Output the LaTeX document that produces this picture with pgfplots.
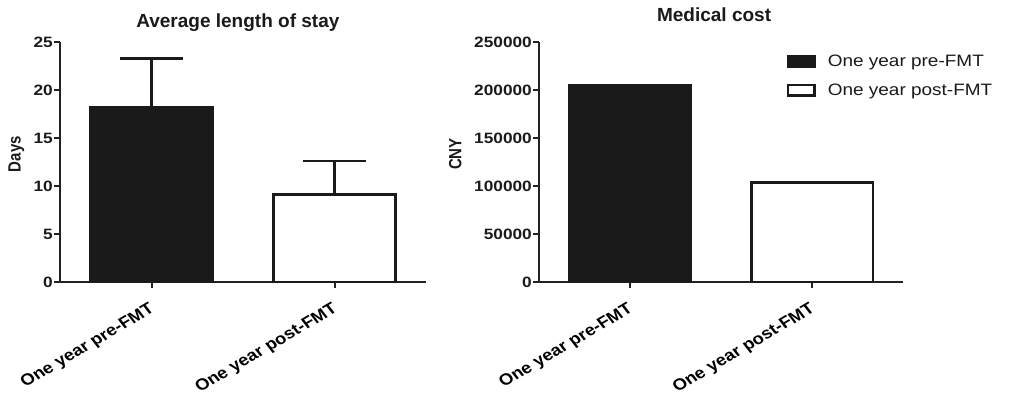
\documentclass[border=0pt]{standalone}
\usepackage{fontspec}
\setmainfont{Liberation Sans}[FakeStretch=1.15]
\newfontfamily\plainsans{Liberation Sans}
\usepackage{graphicx}
\usepackage{pgfplots}
\pgfplotsset{compat=1.18}
\definecolor{barblack}{HTML}{1A1A1A}
\definecolor{axisgray}{HTML}{222222}
\newcommand\xl[1]{\scalebox{1.15}[1]{\rotatebox{34}{\plainsans\bfseries\fontsize{16}{18}\selectfont #1}}}
\newcommand\yl[1]{\scalebox{1}[1.18]{\plainsans\bfseries\fontsize{15}{17}\selectfont #1}}
\pgfplotsset{
  common/.style={
    scale only axis, height=240pt,
    xmin=-0.5, xmax=1.5, ymin=0,
    axis x line*=bottom, axis y line*=left,
    axis line style={-, line width=2.4pt, axisgray},
    tick style={line width=2pt, axisgray},
    major tick length=6pt,
    tick align=outside,
    xtick={0,1},
    xticklabels={\xl{One year pre-FMT}, \xl{One year post-FMT}},
    xticklabel style={anchor=north east, inner sep=0pt, xshift=6pt, yshift=-14pt},
    yticklabel style={font=\bfseries\fontsize{15}{17}\selectfont, text=barblack, inner sep=1pt},
    /pgf/number format/assume math mode=true,
    /pgf/number format/fixed,
    /pgf/number format/precision=0,
    /pgf/number format/1000 sep={},
    scaled y ticks=false,
    legend image code/.code={\draw[#1, line width=2.4pt] (0pt,-5.3pt) rectangle (26.6pt,5.3pt);},
  },
  barblk/.style={ybar, bar shift=0pt, bar width=0.667, fill=barblack, draw=barblack, line width=2.4pt},
  barwht/.style={ybar, bar shift=0pt, bar width=0.667, fill=white, draw=barblack, line width=2.4pt},
  errs/.style={error bars/.cd, y dir=plus, y explicit,
    error bar style={line width=2.4pt, barblack},
    error mark options={rotate=90, line width=2.4pt, mark size=31.5pt, barblack}},
}
\begin{document}
\begin{tikzpicture}
\path[use as bounding box] (0pt,0pt) rectangle (1011pt,399pt);
\begin{axis}[common, at={(60pt,117pt)}, anchor=south west, width=366pt,
  ymax=25, ytick={0,5,10,15,20,25},
  ylabel={\yl{Days}},
  ylabel style={at={(axis description cs:-0.119,0.533)}, anchor=center, text=barblack},
  title={\plainsans\bfseries\fontsize{19}{22}\selectfont Average length of stay},
  title style={at={(axis description cs:0.486,1)}, anchor=base, inner sep=0pt, yshift=9pt, text=barblack},
]
\addplot[barblk, errs] coordinates {(0,18.2) +- (0,5.1)};
\addplot[barwht, errs] coordinates {(1,9.1) +- (0,3.5)};
\end{axis}
\begin{axis}[common, at={(539pt,117pt)}, anchor=south west, width=364pt,
  ymax=250000, ytick={0,50000,100000,150000,200000,250000},
  ylabel={\yl{CNY}},
  ylabel style={at={(axis description cs:-0.23,0.533)}, anchor=center, text=barblack},
  title={\plainsans\bfseries\fontsize{19}{22}\selectfont Medical cost},
  title style={at={(axis description cs:0.481,1)}, anchor=base, inner sep=0pt, yshift=14.5pt, text=barblack},
  legend style={at={(axis description cs:0.672,0.965)}, anchor=north west, draw=none, fill=none,
    font=\fontsize{16.5}{19}\selectfont, text=barblack, row sep=12pt,
    /tikz/every odd column/.append style={column sep=10pt}},
  legend cell align=left,
]
\addplot[barblk] coordinates {(0,205000)};
\addplot[barwht] coordinates {(1,103500)};
\legend{One year pre-FMT, One year post-FMT}
\end{axis}
\end{tikzpicture}
\end{document}
